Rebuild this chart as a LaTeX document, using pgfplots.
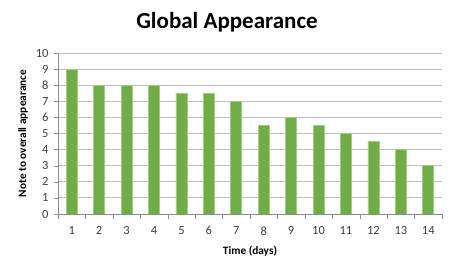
\documentclass[border=0pt]{standalone}
\usepackage{pgfplots}
\pgfplotsset{compat=1.18}
\usepackage{fontspec}
\setmainfont{Carlito}
\definecolor{bargreen}{RGB}{112,173,71}
\definecolor{baredge}{RGB}{160,205,130}
\definecolor{gridgray}{RGB}{190,190,190}
\definecolor{axgray}{RGB}{140,140,140}
\begin{document}
\begin{tikzpicture}[x=1pt,y=1pt]
\path (-58,-51) rectangle (393,214);
\begin{axis}[
  at={(0,0)}, anchor=south west,
  scale only axis, width=384pt, height=161pt,
  xmin=0.5, xmax=14.5, ymin=0, ymax=10,
  ybar, bar width=11pt,
  axis lines*=left,
  axis line style={axgray},
  xtick={1,...,14},
  minor xtick={0.5,1.5,...,14.5},
  major x tick style={draw=none},
  minor x tick style={axgray},
  ytick={0,1,...,10},
  y tick style={axgray},
  tick align=outside,
  major tick length=4pt, minor tick length=5pt,
  ymajorgrids, grid style={gridgray, line width=0.8pt},
  tick label style={font=\fontsize{12.5}{14}\selectfont, text=black!75},
  /pgf/number format/assume math mode=true,
  xticklabel style={yshift=-5pt},
  yticklabel style={xshift=-2pt},
  xlabel={\bfseries Time (days)},
  ylabel={\bfseries Note to overall appearance},
  xlabel style={font=\fontsize{11.3}{13}\selectfont, at={(axis description cs:0.5,0)}, anchor=center, yshift=-37pt},
  ylabel style={font=\fontsize{11.3}{13}\selectfont, at={(axis description cs:0,0.5)}, anchor=center, rotate=0, yshift=35pt},
]
\addplot[fill=bargreen, draw=baredge, line width=0.6pt] coordinates {
(1,9) (2,8) (3,8) (4,8) (5,7.5) (6,7.5) (7,7) (8,5.5) (9,6) (10,5.5) (11,5) (12,4.5) (13,4) (14,3)
};
\end{axis}
\node[font=\fontsize{23}{27}\selectfont\bfseries] at (169,192) {Global Appearance};
\end{tikzpicture}
\end{document}
